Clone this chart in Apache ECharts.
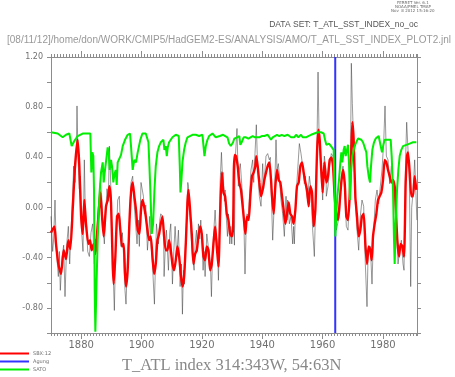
<!DOCTYPE html>
<html>
<head>
<meta charset="utf-8">
<script src="https://cdn.jsdelivr.net/npm/echarts@6/dist/echarts.min.js"></script>
<style>
  html, body { margin: 0; padding: 0; background: #fff; }
  #cont { width: 455px; height: 377px; }
</style>
</head>
<body>
<div id="cont"></div>
<script>
// --- data (year, value) ---
var yearLabels = [1880, 1900, 1920, 1940, 1960, 1980];
var agungYear = 1964.2;

// monthly index (gray), main swings only
var monthly = [
  [1870.00,-0.07],[1870.55,-0.35],[1870.88,-0.25],[1871.33,0.06],[1871.77,-0.34],[1872.43,-0.55],
  [1872.76,-0.35],[1873.09,-0.66],[1873.65,-0.40],[1874.20,-0.30],[1874.64,-0.71],[1875.19,-0.30],
  [1875.75,-0.15],[1876.19,-0.45],[1876.63,-0.20],[1877.18,0.10],[1877.51,0.33],[1877.96,0.20],
  [1878.40,0.45],[1878.62,0.81],[1878.95,0.40],[1879.39,0.15],[1879.72,0.25],[1880.17,-0.20],
  [1880.61,-0.35],[1881.05,0.38],[1881.38,-0.05],[1881.71,-0.10],[1882.16,-0.35],[1882.71,-0.39],
  [1883.26,-0.20],[1883.81,-0.13],[1884.37,-0.45],[1884.81,-0.25],[1885.25,-0.35],[1885.69,0.00],
  [1886.35,0.20],[1886.80,0.09],[1887.24,-0.15],[1887.68,-0.29],[1888.12,-0.05],[1888.56,0.15],
  [1889.01,0.05],[1889.34,0.49],[1889.67,0.30],[1890.11,-0.10],[1890.44,-0.39],[1891.00,-0.82],
  [1891.44,-0.30],[1891.88,-0.10],[1892.10,0.06],[1892.65,0.09],[1893.21,-0.31],[1893.65,-0.20],
  [1894.09,-0.40],[1894.53,-0.66],[1894.86,-0.77],[1895.30,-0.45],[1895.75,-0.25],[1896.19,0.00],
  [1896.52,0.20],[1897.07,0.25],[1897.51,0.05],[1897.96,0.06],[1898.51,-0.29],[1898.95,-0.10],
  [1899.28,-0.31],[1899.83,0.20],[1900.28,0.19],[1900.63,0.09],[1900.96,-0.05],[1901.41,0.02],
  [1901.96,-0.34],[1902.40,-0.20],[1902.73,-0.07],[1903.17,-0.30],[1903.62,-0.45],[1904.28,-0.77],
  [1904.72,-0.35],[1904.94,-0.13],[1905.60,-0.29],[1906.05,-0.10],[1906.38,-0.05],[1906.93,-0.07],
  [1907.26,-0.15],[1907.48,-0.55],[1907.92,-0.30],[1908.26,-0.18],[1908.92,-0.50],[1909.36,-0.20],
  [1909.69,-0.13],[1910.25,-0.61],[1910.69,-0.35],[1911.13,-0.15],[1911.68,-0.39],[1912.24,-0.18],
  [1912.79,-0.63],[1913.23,-0.45],[1913.56,-0.85],[1913.89,-0.50],[1914.22,-0.61],[1914.56,-0.30],
  [1914.89,-0.13],[1915.33,0.20],[1915.55,0.17],[1915.99,0.00],[1916.32,-0.18],[1916.88,-0.39],
  [1917.43,-0.50],[1917.76,-0.30],[1918.21,-0.18],[1918.54,-0.35],[1918.86,-0.13],[1919.31,-0.25],
  [1919.64,-0.10],[1920.08,-0.30],[1920.41,-0.50],[1920.74,-0.35],[1921.07,-0.55],[1921.63,-0.21],
  [1922.07,-0.30],[1922.40,-0.29],[1922.84,-0.45],[1923.17,-0.71],[1923.51,-0.40],[1923.84,-0.23],
  [1924.39,-0.02],[1924.83,-0.23],[1925.27,-0.40],[1925.49,-0.58],[1925.83,-0.25],[1926.05,0.20],
  [1926.49,0.44],[1926.82,0.25],[1927.04,0.28],[1927.48,0.05],[1927.70,0.14],[1928.15,-0.10],
  [1928.48,-0.23],[1928.81,-0.05],[1929.25,-0.29],[1929.58,-0.15],[1929.91,-0.29],[1930.47,-0.01],
  [1930.80,-0.30],[1931.00,0.35],[1931.31,0.49],[1931.64,0.63],[1932.09,0.17],[1932.42,0.30],
  [1932.75,0.35],[1933.19,0.19],[1933.63,0.05],[1933.85,-0.02],[1934.30,-0.53],[1934.63,-0.20],
  [1934.96,-0.05],[1935.40,-0.07],[1935.73,-0.07],[1936.28,0.30],[1936.84,0.38],[1937.17,0.20],
  [1937.61,0.43],[1938.05,0.66],[1938.50,0.30],[1939.05,0.09],[1939.60,0.01],[1940.15,0.35],
  [1940.48,0.15],[1940.93,0.30],[1941.26,0.41],[1941.81,0.43],[1942.36,0.38],[1942.69,0.40],
  [1942.92,0.19],[1943.47,-0.26],[1944.02,0.04],[1944.57,0.54],[1944.90,0.30],[1945.35,0.35],
  [1945.68,0.25],[1946.23,0.06],[1946.78,-0.05],[1947.34,-0.23],[1947.89,0.09],[1948.22,-0.10],
  [1948.44,0.06],[1949.00,-0.13],[1949.55,-0.07],[1950.10,-0.29],[1950.43,-0.15],[1950.65,-0.29],
  [1951.20,0.09],[1951.76,0.30],[1952.31,0.51],[1952.86,0.43],[1953.41,0.33],[1953.97,0.19],
  [1954.30,0.25],[1954.52,0.14],[1955.07,0.06],[1955.63,0.25],[1956.18,0.14],[1956.73,-0.18],
  [1957.28,-0.39],[1957.72,0.04],[1958.17,0.54],[1958.50,1.08],[1958.83,0.60],[1959.16,0.45],
  [1959.49,0.30],[1960.04,0.06],[1960.60,0.41],[1961.15,0.30],[1961.25,0.09],[1961.80,0.17],
  [1962.36,0.33],[1962.91,0.43],[1963.46,0.41],[1964.01,0.19],[1964.57,-0.18],[1965.12,-0.18],
  [1965.67,-0.05],[1966.22,0.25],[1966.78,0.33],[1967.33,0.14],[1967.88,-0.15],[1968.43,-0.18],
  [1968.99,0.14],[1969.32,0.55],[1969.54,1.15],[1969.87,0.83],[1970.31,0.51],[1970.86,0.04],
  [1971.42,-0.18],[1971.97,-0.34],[1972.52,-0.07],[1973.07,0.06],[1973.63,0.01],[1974.18,-0.45],
  [1974.73,-0.79],[1975.06,-0.40],[1975.28,-0.39],[1975.84,-0.31],[1976.39,-0.61],[1976.94,-0.18],
  [1977.49,0.06],[1978.05,0.14],[1978.60,0.03],[1979.15,0.17],[1979.70,0.30],[1980.26,0.52],
  [1980.70,0.81],[1981.14,0.41],[1981.69,0.38],[1982.25,0.19],[1982.80,0.33],[1983.35,0.19],
  [1983.90,0.09],[1984.46,-0.13],[1985.01,-0.45],[1985.56,-0.34],[1986.11,-0.26],[1986.67,-0.45],
  [1987.00,-0.50],[1987.33,0.10],[1987.55,0.41],[1987.88,0.68],[1988.32,0.46],[1988.77,0.20],
  [1989.21,-0.63],[1989.54,0.00],[1989.98,0.12],[1990.53,0.38],[1990.97,0.10],[1991.25,-0.10]
];

// 12-month smoothed index (red, SBX:12)
var sbx12 = [
  [1870.00,-0.20],[1871.11,-0.15],[1871.66,-0.29],[1872.43,-0.45],[1873.32,-0.53],[1874.20,-0.34],
  [1874.97,-0.41],[1875.75,-0.26],[1876.41,-0.33],[1877.18,-0.02],[1877.96,0.33],[1878.84,0.54],
  [1879.39,0.33],[1879.94,-0.05],[1880.50,-0.21],[1881.05,0.06],[1881.60,-0.13],[1882.38,-0.29],
  [1882.93,-0.26],[1883.48,-0.34],[1884.14,-0.29],[1884.70,-0.37],[1885.14,-0.25],[1885.69,-0.07],
  [1886.35,0.12],[1886.91,-0.07],[1887.46,-0.23],[1888.23,0.01],[1888.78,0.06],[1889.34,0.17],
  [1889.89,0.04],[1890.44,-0.45],[1890.77,-0.61],[1891.33,-0.39],[1891.88,-0.07],[1892.43,-0.05],
  [1892.98,-0.18],[1893.54,-0.31],[1894.09,-0.29],[1894.53,-0.53],[1894.86,-0.63],[1895.41,-0.50],
  [1895.97,-0.13],[1896.52,0.12],[1897.07,0.20],[1897.62,0.09],[1898.18,-0.02],[1898.73,-0.18],
  [1899.28,-0.21],[1899.83,-0.02],[1900.30,0.06],[1900.85,0.01],[1901.41,-0.07],[1901.96,-0.18],
  [1902.51,-0.26],[1903.06,-0.23],[1903.62,-0.39],[1904.17,-0.53],[1904.72,-0.45],[1905.27,-0.26],
  [1905.83,-0.21],[1906.38,-0.13],[1906.93,-0.07],[1907.48,-0.23],[1908.04,-0.34],[1908.59,-0.34],
  [1909.14,-0.26],[1909.69,-0.34],[1910.25,-0.45],[1910.80,-0.50],[1911.35,-0.42],[1911.90,-0.31],
  [1912.46,-0.39],[1913.01,-0.53],[1913.56,-0.63],[1914.11,-0.55],[1914.67,-0.29],[1915.22,0.04],
  [1915.55,0.14],[1916.10,-0.02],[1916.65,-0.21],[1917.21,-0.45],[1917.76,-0.37],[1918.31,-0.34],
  [1918.86,-0.23],[1919.42,-0.15],[1919.97,-0.21],[1920.52,-0.39],[1921.07,-0.42],[1921.63,-0.31],
  [1922.18,-0.34],[1922.73,-0.50],[1923.28,-0.45],[1923.84,-0.29],[1924.39,-0.15],[1924.94,-0.31],
  [1925.49,-0.47],[1926.05,-0.05],[1926.60,0.28],[1927.15,0.12],[1927.70,0.09],[1928.26,-0.05],
  [1928.81,-0.10],[1929.36,-0.21],[1929.91,-0.23],[1930.36,-0.15],[1930.60,0.30],[1930.90,0.42],
  [1931.31,0.41],[1931.87,0.33],[1932.42,0.20],[1932.97,0.14],[1933.52,0.01],[1934.08,-0.13],
  [1934.41,-0.21],[1934.96,-0.07],[1935.51,-0.10],[1936.06,0.09],[1936.62,0.25],[1937.17,0.28],
  [1937.72,0.33],[1938.05,0.41],[1938.50,0.33],[1939.05,0.20],[1939.60,0.09],[1940.15,0.14],
  [1940.71,0.22],[1941.26,0.28],[1941.81,0.33],[1942.36,0.36],[1942.92,0.22],[1943.25,0.09],
  [1943.80,-0.05],[1944.35,0.17],[1944.90,0.30],[1945.46,0.22],[1946.01,0.20],[1946.56,0.09],
  [1947.11,-0.02],[1947.67,-0.13],[1948.22,-0.05],[1948.77,0.04],[1949.32,-0.05],[1949.88,-0.07],
  [1950.43,-0.13],[1950.98,-0.02],[1951.53,0.17],[1952.09,0.20],[1952.64,0.33],[1953.19,0.36],
  [1953.74,0.28],[1954.30,0.20],[1954.85,0.14],[1955.40,0.01],[1955.96,0.17],[1956.51,0.12],
  [1957.06,-0.15],[1957.61,-0.02],[1958.17,0.44],[1958.61,0.62],[1959.05,0.54],[1959.49,0.33],
  [1960.04,0.12],[1960.60,0.36],[1961.25,0.20],[1961.80,0.25],[1962.36,0.38],[1962.91,0.40],
  [1963.46,0.33],[1964.01,0.09],[1964.57,-0.05],[1965.12,-0.10],[1965.67,0.04],[1966.22,0.20],
  [1966.78,0.30],[1967.33,0.20],[1967.88,-0.07],[1968.43,-0.10],[1968.99,0.09],[1969.54,0.46],
  [1969.87,0.68],[1970.31,0.54],[1970.86,0.09],[1971.42,-0.07],[1971.97,-0.23],[1972.52,-0.18],
  [1973.07,-0.07],[1973.63,-0.05],[1974.18,-0.29],[1974.73,-0.45],[1975.28,-0.31],[1975.84,-0.34],
  [1976.28,-0.42],[1976.72,-0.23],[1977.27,-0.13],[1977.83,-0.05],[1978.38,0.06],[1978.93,0.09],
  [1979.48,0.12],[1980.04,0.22],[1980.59,0.38],[1981.14,0.36],[1981.69,0.30],[1982.25,0.25],
  [1982.80,0.20],[1983.35,0.22],[1983.90,0.17],[1984.23,0.01],[1984.79,-0.26],[1985.34,-0.39],
  [1985.89,-0.29],[1986.44,-0.31],[1987.00,-0.39],[1987.55,0.20],[1987.99,0.41],[1988.32,0.44],
  [1988.88,0.28],[1989.43,0.09],[1989.98,0.09],[1990.53,0.25],[1991.08,0.14]
];

// SATO volcanic aerosol (green, scaled)
var sato = [
  [1870.00,0.60],[1872.21,0.59],[1873.87,0.56],[1874.97,0.58],[1876.08,0.59],[1876.85,0.49],
  [1877.73,0.53],[1878.84,0.57],[1880.50,0.59],[1882.16,0.59],[1883.04,0.59],[1883.37,0.28],
  [1883.70,0.44],[1884.03,0.41],[1884.25,0.14],[1884.48,-0.66],[1884.70,-0.99],[1885.03,-0.66],
  [1885.47,-0.26],[1886.02,0.09],[1886.58,0.28],[1887.13,0.36],[1887.46,0.20],[1887.90,0.30],
  [1888.45,0.41],[1888.78,0.48],[1889.12,0.44],[1889.45,0.30],[1889.89,0.38],[1890.22,0.33],
  [1890.66,0.20],[1891.00,0.26],[1891.44,0.30],[1891.77,0.18],[1892.10,0.36],[1892.65,0.37],
  [1893.21,0.42],[1893.76,0.49],[1894.53,0.54],[1895.41,0.58],[1896.19,0.59],[1896.52,0.49],
  [1897.07,0.30],[1897.62,0.38],[1898.18,0.36],[1898.73,0.44],[1899.61,0.54],[1900.30,0.59],
  [1901.41,0.59],[1901.96,0.58],[1902.29,0.52],[1902.62,0.33],[1903.06,0.04],[1903.39,-0.21],
  [1903.84,-0.13],[1904.28,0.14],[1904.72,0.33],[1905.27,0.44],[1905.83,0.49],[1906.38,0.52],
  [1906.93,0.53],[1907.26,0.54],[1907.59,0.46],[1908.04,0.49],[1908.37,0.41],[1908.70,0.48],
  [1909.14,0.52],[1909.69,0.54],[1910.25,0.56],[1910.80,0.57],[1911.35,0.58],[1912.01,0.59],
  [1912.34,0.57],[1912.68,0.33],[1912.90,0.12],[1913.23,0.22],[1913.56,0.36],[1914.11,0.46],
  [1914.67,0.52],[1915.22,0.56],[1915.77,0.57],[1916.88,0.58],[1917.98,0.58],[1919.09,0.57],
  [1920.19,0.58],[1920.52,0.57],[1920.86,0.41],[1921.30,0.49],[1921.85,0.54],[1922.40,0.57],
  [1923.51,0.59],[1924.06,0.58],[1924.61,0.56],[1925.17,0.57],[1925.94,0.57],[1926.60,0.56],
  [1927.04,0.58],[1927.70,0.58],[1928.48,0.56],[1929.03,0.51],[1929.58,0.49],[1930.36,0.52],
  [1930.76,0.55],[1931.64,0.56],[1932.42,0.57],[1932.75,0.50],[1933.19,0.52],[1933.85,0.56],
  [1934.63,0.56],[1935.40,0.55],[1936.06,0.56],[1936.84,0.57],[1937.61,0.56],[1938.27,0.57],
  [1939.05,0.56],[1939.82,0.57],[1940.71,0.57],[1941.81,0.58],[1942.36,0.58],[1942.92,0.54],
  [1943.47,0.56],[1944.02,0.57],[1944.90,0.58],[1945.68,0.57],[1946.45,0.58],[1947.34,0.57],
  [1948.44,0.58],[1949.55,0.56],[1950.10,0.57],[1950.65,0.56],[1951.20,0.58],[1951.98,0.56],
  [1952.86,0.58],[1953.41,0.56],[1953.97,0.55],[1954.52,0.56],[1955.29,0.57],[1956.18,0.58],
  [1957.28,0.59],[1958.39,0.60],[1959.49,0.60],[1960.37,0.59],[1960.82,0.54],[1961.26,0.50],
  [1962.13,0.51],[1962.80,0.49],[1963.24,0.50],[1963.68,0.46],[1964.01,0.14],[1964.23,-0.23],
  [1964.57,-0.05],[1964.90,0.09],[1965.45,0.22],[1965.89,0.36],[1966.22,0.44],[1966.55,0.36],
  [1967.00,0.46],[1967.33,0.49],[1967.66,0.41],[1968.10,0.46],[1968.43,0.50],[1968.76,0.36],
  [1969.10,0.06],[1969.43,0.28],[1969.87,0.41],[1970.31,0.46],[1970.97,0.51],[1971.75,0.55],
  [1972.30,0.56],[1972.85,0.54],[1973.41,0.52],[1973.96,0.48],[1974.51,0.44],[1974.84,0.33],
  [1975.28,0.25],[1975.73,0.20],[1976.06,0.33],[1976.50,0.46],[1977.05,0.52],[1977.60,0.55],
  [1978.16,0.56],[1978.60,0.57],[1978.93,0.53],[1979.26,0.49],[1979.70,0.44],[1980.15,0.50],
  [1980.59,0.54],[1981.14,0.55],[1981.69,0.54],[1982.25,0.55],[1982.58,0.54],[1982.91,0.41],
  [1983.35,0.14],[1983.68,-0.26],[1983.90,-0.45],[1984.23,-0.13],[1984.68,0.14],[1985.12,0.30],
  [1985.56,0.41],[1986.11,0.46],[1986.67,0.49],[1987.22,0.49],[1987.77,0.50],[1988.32,0.49],
  [1988.88,0.51],[1989.43,0.50],[1989.98,0.52],[1990.53,0.51],[1991.08,0.52]
];

var myChart = echarts.init(document.getElementById('cont'));

var axisGray = '#8c8c8c';
var textGray = '#707070';

function xAx(pos, len, custom, labels) {
  var ax = {
    type: 'value', position: pos, min: 1870, max: 1991.3, interval: 1,
    axisLine: { show: true, onZero: false, lineStyle: { color: axisGray, width: 1 } },
    axisTick: { show: true, length: len, lineStyle: { color: axisGray } },
    axisLabel: { show: false },
    splitLine: { show: false }
  };
  if (custom) ax.axisTick.customValues = yearLabels;
  if (labels) {
    ax.axisLabel = {
      show: true, customValues: yearLabels, color: textGray, fontSize: 10,
      fontFamily: 'DejaVu Sans', margin: 7,
      formatter: function (v) { return String(Math.round(v)); }
    };
  }
  return ax;
}

function yAx(pos, labels) {
  return {
    type: 'value', position: pos, min: -1, max: 1.2, interval: 0.2,
    axisLine: { show: true, onZero: false, lineStyle: { color: axisGray, width: 1 } },
    axisTick: { show: true, length: 4, lineStyle: { color: axisGray } },
    splitLine: { show: false },
    axisLabel: {
      show: labels, color: textGray, fontSize: 8, fontFamily: 'DejaVu Sans', margin: 8,
      formatter: function (v) {
        var k = Math.round(v * 10);
        if (k % 4 !== 0) return '';
        return (Math.abs(v) < 1e-9 ? 0 : v).toFixed(2);
      }
    }
  };
}

var option = {
  animation: false,
  grid: { left: 51, right: 38, top: 57, bottom: 44 },
  xAxis: [
    xAx('bottom', 3, false, true),
    xAx('bottom', 6, true, false),
    xAx('top', 3, false, false),
    xAx('top', 6, true, false)
  ],
  yAxis: [yAx('left', true), yAx('right', false)],
  legend: {
    orient: 'vertical', left: 0, top: 351,
    itemWidth: 29, itemHeight: 2, itemGap: 3, icon: 'rect',
    textStyle: { color: textGray, fontSize: 5, fontFamily: 'DejaVu Sans', padding: [0, 0, 0, -1] },
    padding: 0,
    data: ['SBX:12', 'Agung', 'SATO']
  },
  graphic: [
    { type: 'text', left: 397, top: 1, style: { text: 'FERRET Ver. 6.1', fill: '#666', font: '4px DejaVu Sans' } },
    { type: 'text', left: 395, top: 5, style: { text: 'NOAA/PMEL TMAP', fill: '#666', font: '4px DejaVu Sans' } },
    { type: 'text', left: 391, top: 9, style: { text: 'Nov  8 2012 15:16:20', fill: '#666', font: '4px DejaVu Sans' } },
    { type: 'text', right: 37, top: 20, style: { text: 'DATA SET: T_ATL_SST_INDEX_no_oc', fill: '#555', font: '8.5px Liberation Sans' } },
    { type: 'text', left: 7, top: 35, style: { text: '[08/11/12]/home/don/WORK/CMIP5/HadGEM2-ES/ANALYSIS/AMO/T_ATL_SST_INDEX_PLOT2.jnl', fill: '#999', font: '10px Liberation Sans' } },
    { type: 'text', left: 122, top: 357, style: { text: 'T_ATL index 314:343W, 54:63N', fill: '#888', font: '16.5px Liberation Serif' } }
  ],
  series: [
    {
      name: 'monthly', type: 'line', data: monthly, showSymbol: false,
      lineStyle: { color: 'rgba(60,60,60,0.65)', width: 0.8 }, z: 1
    },
    {
      name: 'SBX:12', type: 'line', data: sbx12, showSymbol: false, smooth: 0.2,
      itemStyle: { color: '#ff0000' },
      lineStyle: { color: '#ff0000', width: 2.4 }, z: 2
    },
    {
      name: 'Agung', type: 'line', data: [[agungYear, -1], [agungYear, 1.2]], showSymbol: false,
      itemStyle: { color: '#3333ff' },
      lineStyle: { color: '#3333ff', width: 2 }, z: 3
    },
    {
      name: 'SATO', type: 'line', data: sato, showSymbol: false,
      itemStyle: { color: '#00ee00' },
      lineStyle: { color: '#00ee00', width: 2 }, z: 4
    }
  ]
};

myChart.setOption(option);
</script>
</body>
</html>
